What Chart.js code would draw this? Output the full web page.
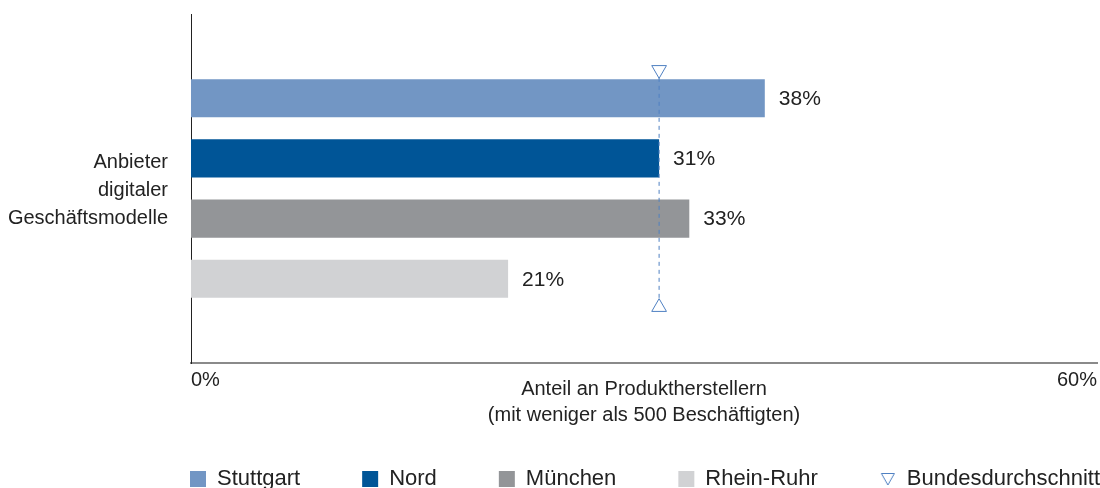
<!DOCTYPE html>
<html lang="de">
<head>
<meta charset="utf-8">
<title>Anbieter digitaler Geschäftsmodelle</title>
<script src="https://cdn.jsdelivr.net/npm/chart.js@4.4.1/dist/chart.umd.min.js"></script>
<style>
    html, body { margin: 0; padding: 0; background: #fff; overflow: hidden; }
    #wrap { width: 1100px; height: 500px; }
</style>
</head>
<body>
<div id="wrap"><canvas id="myChart" width="1100" height="500"></canvas></div>
<script>
"use strict";

// Daten
const category = ['Anbieter', 'digitaler', 'Geschäftsmodelle'];
const regions = ['Stuttgart', 'Nord', 'München', 'Rhein-Ruhr'];
const shares = [38, 31, 33, 21];
const regionColors = ['#7296c4', '#005597', '#939598', '#d1d2d4'];
const avgLabel = 'Bundesdurchschnitt';
const avgShare = 31;
const avgSpan = [-0.34, 0.34];   // Ausdehnung der Markierung auf der Kategorieachse
const xTicks = [0, 60];
const xTitle = ['Anteil an Produktherstellern', '(mit weniger als 500 Beschäftigten)'];

const avgColor = '#4f80c2';
const textColor = '#222';
const font = 'Liberation Sans, Arial, sans-serif';

// kleines Dreieck für die Legende
const tri = document.createElement('canvas');
tri.width = 16;
tri.height = 14;
const tctx = tri.getContext('2d');
tctx.strokeStyle = avgColor;
tctx.lineWidth = 1;
tctx.beginPath();
tctx.moveTo(1.5, 1.5);
tctx.lineTo(14.5, 1.5);
tctx.lineTo(8, 13);
tctx.closePath();
tctx.stroke();

const datasets = regions.map(function (name, i) {
    return {
        label: name,
        data: [shares[i]],
        backgroundColor: regionColors[i],
        borderWidth: 0,
        pointStyle: 'rect',
        categoryPercentage: 0.69,
        barPercentage: 0.633,
        order: 1
    };
});

// Bundesdurchschnitt: gestrichelte Linie mit zwei Dreiecken (gleiche y-Achse, daher parsing: false)
datasets.push({
    type: 'line',
    label: avgLabel,
    parsing: false,
    data: avgSpan.map(function (v) { return {x: avgShare, y: v}; }),
    borderColor: avgColor,
    borderWidth: 1,
    borderDash: [4, 4],
    pointStyle: 'triangle',
    pointRadius: 8.5,
    pointRotation: [180, 0],
    pointBackgroundColor: '#fff',
    pointBorderColor: avgColor,
    pointBorderWidth: 1,
    order: 0
});

// Prozentwerte rechts neben den Balken
const valueLabels = {
    id: 'valueLabels',
    afterDatasetsDraw(chart) {
        const ctx = chart.ctx;
        ctx.save();
        ctx.font = '21px ' + font;
        ctx.fillStyle = textColor;
        ctx.textBaseline = 'middle';
        ctx.textAlign = 'left';
        chart.data.datasets.forEach(function (ds, i) {
            if (ds.type === 'line') return;
            const meta = chart.getDatasetMeta(i);
            meta.data.forEach(function (el, j) {
                ctx.fillText(ds.data[j] + '%', el.x + 14, el.y + 1);
            });
        });
        ctx.restore();
    }
};

// Legende nach rechts schieben, bündig mit der Achse
const legendShift = {
    id: 'legendShift',
    afterLayout(chart) {
        if (chart.legend) {
            chart.legend.left += 128;
            chart.legend.right += 128;
        }
    }
};

const ctx = document.getElementById('myChart');
const myChart = new Chart(ctx, {
    type: 'bar',
    data: {
        labels: [category],
        datasets: datasets
    },
    plugins: [valueLabels, legendShift],
    options: {
        responsive: false,
        animation: false,
        indexAxis: 'y',
        layout: {
            autoPadding: false,
            padding: {left: 0, right: 3, top: 14, bottom: 0}
        },
        scales: {
            x: {
                min: xTicks[0],
                max: xTicks[xTicks.length - 1],
                grid: {display: false},
                border: {color: '#8a8a8a', width: 2},
                ticks: {
                    stepSize: xTicks[1] - xTicks[0],
                    align: 'inner',
                    padding: -3,
                    color: textColor,
                    font: {family: font, size: 20},
                    callback: function (v) { return v + '%'; }
                },
                title: {
                    display: true,
                    text: xTitle,
                    color: textColor,
                    font: {family: font, size: 20, lineHeight: 1.3},
                    padding: {top: 0, bottom: -22}
                },
                afterFit: function (scale) {
                    scale.height = 43;
                    scale.paddingLeft = 0;
                    scale.paddingRight = 0;
                }
            },
            y: {
                type: 'category',
                grid: {display: false},
                border: {color: '#222', width: 1},
                ticks: {
                    padding: 15,
                    labelOffset: 2,
                    color: textColor,
                    font: {family: font, size: 20, lineHeight: 1.4}
                },
                afterFit: function (scale) {
                    scale.width = 191;
                    scale.paddingTop = 0;
                    scale.paddingBottom = 0;
                }
            }
        },
        plugins: {
            tooltip: {enabled: false},
            legend: {
                position: 'bottom',
                align: 'start',
                labels: {
                    usePointStyle: true,
                    boxWidth: 16,
                    boxHeight: 16,
                    padding: 62,
                    color: textColor,
                    font: {family: font, size: 22},
                    sort: function (a, b) { return a.datasetIndex - b.datasetIndex; },
                    generateLabels: function (chart) {
                        const items = Chart.defaults.plugins.legend.labels.generateLabels(chart);
                        items.forEach(function (it) {
                            if (it.text === avgLabel) {
                                it.pointStyle = tri;
                                it.rotation = 0;
                            }
                        });
                        return items;
                    }
                }
            }
        }
    }
});
</script>
</body>
</html>
